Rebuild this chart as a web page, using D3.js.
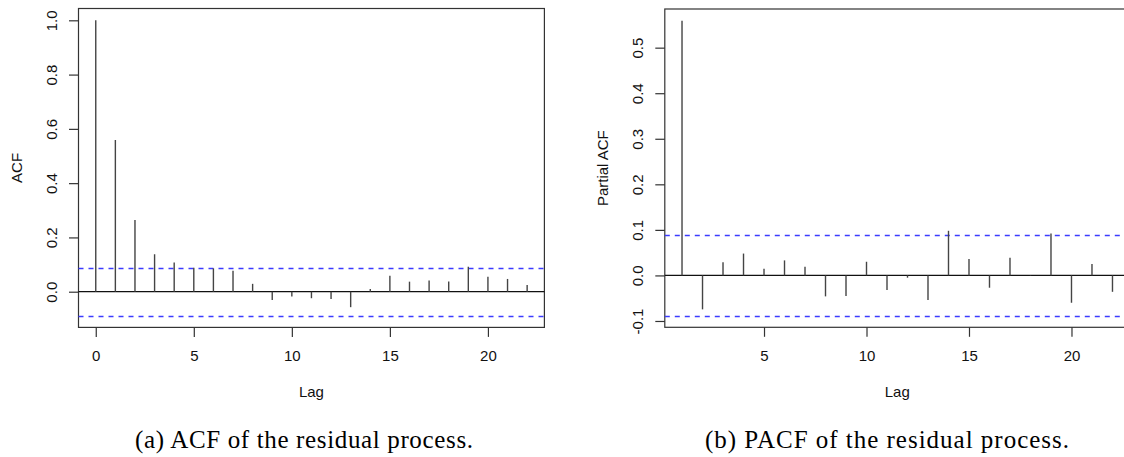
<!DOCTYPE html>
<html>
<head>
<meta charset="utf-8">
<script src="https://cdn.jsdelivr.net/npm/d3@7"></script>
<style>
  html, body { margin: 0; padding: 0; background: #fff; }
  svg { display: block; }
</style>
</head>
<body>
<script>
// ---- data ----
const acfLags = d3.range(0, 23);
const acfValues = [1.000, 0.559, 0.264, 0.138, 0.108, 0.088, 0.086, 0.077, 0.029,
  -0.031, -0.018, -0.024, -0.027, -0.057, 0.010, 0.059, 0.037, 0.041, 0.038,
  0.092, 0.055, 0.047, 0.025];
const pacfLags = d3.range(1, 23);
const pacfValues = [0.559, -0.0745, 0.029, 0.048, 0.0145, 0.033, 0.019, -0.046,
  -0.045, 0.030, -0.032, -0.005, -0.054, 0.098, 0.036, -0.027, 0.039, 0.001,
  0.092, -0.060, 0.025, -0.036];
const ciBound = 0.088;
const acfYTicks = [0, 0.2, 0.4, 0.6, 0.8, 1.0];
const pacfYTicks = [-0.1, 0, 0.1, 0.2, 0.3, 0.4, 0.5];
const acfXTicks = [0, 5, 10, 15, 20];
const pacfXTicks = [5, 10, 15, 20];
const captions = ["(a) ACF of the residual process.", "(b) PACF of the residual process."];
const yTitles = ["ACF", "Partial ACF"];
const xTitle = "Lag";

// ---- layout ----
const W = 1124, H = 457;
const svg = d3.select("body").append("svg").attr("width", W).attr("height", H);
svg.append("rect").attr("width", W).attr("height", H).attr("fill", "#fff");

function rExtend(lo, hi) { const d = (hi - lo) * 0.04; return [lo - d, hi + d]; }

const fontSans = "'Liberation Sans', Arial, Helvetica, sans-serif";

function panel(opts) {
  const { lags, values, left, right, top, bottom, yTicks, xTicks, yTitle, caption, capWidth, capCenter } = opts;
  const x = d3.scaleLinear()
    .domain(rExtend(d3.min(lags), d3.max(lags)))
    .range([left, right]);
  const y = d3.scaleLinear()
    .domain(rExtend(Math.min(-ciBound, d3.min(values)), Math.max(ciBound, d3.max(values))))
    .range([bottom, top]);

  const g = svg.append("g");

  // box
  g.append("rect")
    .attr("x", left).attr("y", top)
    .attr("width", right - left).attr("height", bottom - top)
    .attr("fill", "none").attr("stroke", "#333").attr("stroke-width", 1.2);

  // zero line
  g.append("line")
    .attr("x1", left).attr("x2", right)
    .attr("y1", y(0)).attr("y2", y(0))
    .attr("stroke", "#111").attr("stroke-width", 1.2);

  // confidence bounds
  [ciBound, -ciBound].forEach(c => {
    g.append("line")
      .attr("x1", left).attr("x2", right)
      .attr("y1", Math.round(y(c)) + 0.5).attr("y2", Math.round(y(c)) + 0.5)
      .attr("stroke", "#3c3cff").attr("stroke-width", 1.4)
      .attr("stroke-dasharray", "5,5");
  });

  // spikes
  g.selectAll("line.spike").data(lags.map((l, i) => [l, values[i]]))
    .join("line").attr("class", "spike")
    .attr("x1", d => x(d[0])).attr("x2", d => x(d[0]))
    .attr("y1", y(0)).attr("y2", d => y(d[1]))
    .attr("stroke", "#444").attr("stroke-width", 1.4);

  // x axis
  const xa = g.append("g").attr("transform", `translate(0,${bottom})`)
    .call(d3.axisBottom(x).tickValues(xTicks).tickSize(9.5).tickSizeOuter(0).tickPadding(0).tickFormat(d3.format("d")));
  xa.select(".domain").remove();
  xa.selectAll(".tick line").attr("stroke", "#333").attr("stroke-width", 1.2);
  xa.selectAll(".tick text").attr("y", 33.5).attr("dy", null)
    .attr("fill", "#111").style("font-family", fontSans).style("font-size", "15px");

  // y axis
  const ya = g.append("g").attr("transform", `translate(${left},0)`)
    .call(d3.axisLeft(y).tickValues(yTicks).tickSize(9.5).tickSizeOuter(0).tickFormat(d => d3.format(".1f")(d).replace("−", "-")));
  ya.select(".domain").remove();
  ya.selectAll(".tick line").attr("stroke", "#333").attr("stroke-width", 1.2);
  ya.selectAll(".tick text")
    .attr("x", null).attr("dy", null)
    .attr("text-anchor", "middle")
    .attr("transform", "translate(-21.5,0) rotate(-90)")
    .attr("fill", "#111").style("font-family", fontSans).style("font-size", "15px");

  // titles
  g.append("text")
    .attr("transform", `translate(${left - 57},${(top + bottom) / 2}) rotate(-90)`)
    .attr("text-anchor", "middle").attr("fill", "#111")
    .style("font-family", fontSans).style("font-size", "15px")
    .text(yTitle);
  g.append("text")
    .attr("x", (left + right) / 2).attr("y", 397)
    .attr("text-anchor", "middle").attr("fill", "#111")
    .style("font-family", fontSans).style("font-size", "15px")
    .text(xTitle);

  // caption
  g.append("text")
    .attr("x", capCenter - capWidth / 2).attr("y", 448)
    .attr("textLength", capWidth).attr("lengthAdjust", "spacing")
    .attr("fill", "#000")
    .style("font-family", "'Liberation Serif', 'DejaVu Serif', serif").style("font-size", "25px")
    .text(caption);
}

panel({ lags: acfLags, values: acfValues, left: 78.5, right: 544.4, top: 8.5, bottom: 327.4,
  yTicks: acfYTicks, xTicks: acfXTicks, yTitle: yTitles[0], caption: captions[0],
  capWidth: 338, capCenter: 304 });
panel({ lags: pacfLags, values: pacfValues, left: 664.8, right: 1129.7, top: 9, bottom: 327.3,
  yTicks: pacfYTicks, xTicks: pacfXTicks, yTitle: yTitles[1], caption: captions[1],
  capWidth: 364, capCenter: 887 });
</script>
</body>
</html>
